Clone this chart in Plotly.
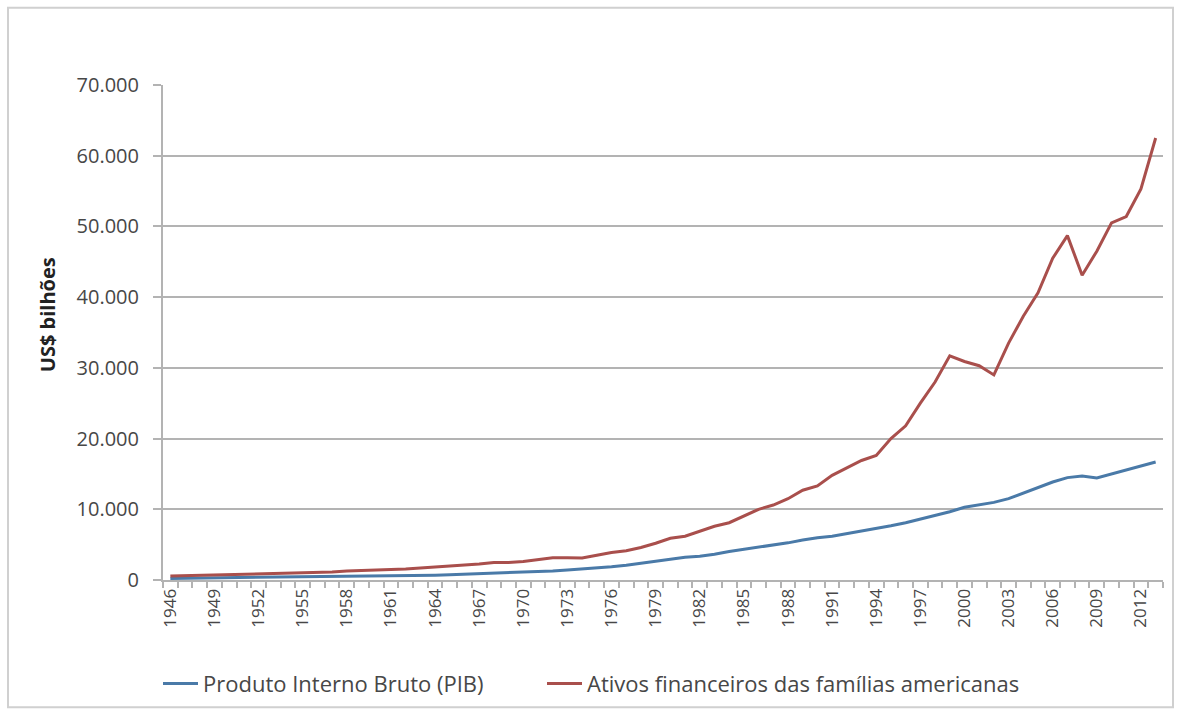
import plotly.graph_objects as go

# Years covered by the series
years = list(range(1946, 2014))

# Produto Interno Bruto (PIB), US$ bilhões
pib = [
    228, 250, 275, 273, 300, 347, 368, 390, 391, 426,
    450, 475, 482, 523, 543, 563, 605, 639, 686, 744,
    815, 862, 943, 1020, 1076, 1168, 1282, 1429, 1549, 1689,
    1878, 2086, 2357, 2632, 2863, 3211, 3345, 3638, 4041, 4347,
    4590, 4870, 5253, 5658, 5980, 6174, 6539, 6879, 7309, 7664,
    8100, 8609, 9089, 9661, 10285, 10622, 10978, 11511, 12275, 13094,
    13856, 14478, 14719, 14419, 14964, 15518, 16155, 16691,
]

# Ativos financeiros das famílias americanas, US$ bilhões
ativos = [
    550, 600, 630, 660, 740, 790, 830, 850, 950, 1040,
    1100, 1120, 1260, 1330, 1380, 1530, 1560, 1700, 1830, 1980,
    2020, 2250, 2470, 2480, 2600, 2850, 3150, 3150, 3100, 3500,
    3900, 4150, 4600, 5200, 5900, 6200, 6900, 7600, 8100, 9100,
    10000, 10600, 11500, 12700, 13300, 14800, 15800, 16900, 17600, 20000,
    21800, 25000, 28000, 31700, 30900, 30300, 29000, 33500, 37300, 40600,
    45500, 48700, 43100, 46500, 50500, 51400, 55300, 62500,
]

# Labelled years on the category axis (every third year)
tick_years = list(range(1946, 2014, 3))

blue = "#4a7aa8"
red = "#a94f4c"
text_color = "#474747"
grid_color = "#b3b3b3"

fig = go.Figure()
fig.add_trace(go.Scatter(
    x=years, y=pib, mode="lines", name="Produto Interno Bruto (PIB)",
    line=dict(color=blue, width=3), legend="legend",
))
fig.add_trace(go.Scatter(
    x=years, y=ativos, mode="lines", name="Ativos financeiros das famílias americanas",
    line=dict(color=red, width=3), legend="legend2",
))

# Legends are placed in container coordinates so they don't resize the plot area
legend_style = dict(
    orientation="h", xref="container", yref="container",
    y=0.068, xanchor="left", yanchor="top",
    font=dict(size=22, color=text_color), itemwidth=35,
    bgcolor="rgba(0,0,0,0)",
)

fig.update_layout(
    width=1179, height=711,
    margin=dict(l=163, r=16, t=85, b=131, autoexpand=False),
    paper_bgcolor="white", plot_bgcolor="white",
    separators=",.",
    font=dict(family="Open Sans, DejaVu Sans, sans-serif", color=text_color),
    showlegend=True,
    legend=dict(x=158 / 1179, **legend_style),
    legend2=dict(x=542 / 1179, **legend_style),
    xaxis=dict(
        range=[1945.5, 2013.5], automargin=False,
        tickmode="array", tickvals=tick_years, ticktext=[str(y) for y in tick_years],
        tickangle=-90, tickfont=dict(size=17, color=text_color),
        showgrid=False, zeroline=False,
        showline=True, linecolor=grid_color, linewidth=2,
        ticks="",
        minor=dict(ticks="outside", ticklen=6, tickwidth=1.5, tickcolor=grid_color,
                   tick0=1945.5, dtick=1, showgrid=False),
    ),
    yaxis=dict(
        range=[0, 70000], automargin=False,
        tickmode="linear", tick0=0, dtick=10000,
        tickformat=",d",
        tickfont=dict(size=20, color=text_color),
        ticklabelstandoff=10,
        showgrid=True, gridcolor=grid_color, gridwidth=2,
        zeroline=False,
        showline=True, linecolor=grid_color, linewidth=2,
        ticks="outside", ticklen=8, tickwidth=2, tickcolor=grid_color,
    ),
)

# Vertical axis title
fig.add_annotation(
    text="<b>US$ bilhões</b>", textangle=-90, showarrow=False,
    xref="paper", yref="paper", x=-0.116, y=0.535,
    xanchor="center", yanchor="middle",
    font=dict(size=20, color="#222222"),
)

# Thin frame around the whole chart area
fig.add_shape(
    type="rect", xref="paper", yref="paper",
    x0=-0.155, x1=1.010, y0=-0.257, y1=1.156,
    line=dict(color="#d0d0d0", width=2), fillcolor="rgba(0,0,0,0)", layer="below",
)

fig.write_html("out.html")
